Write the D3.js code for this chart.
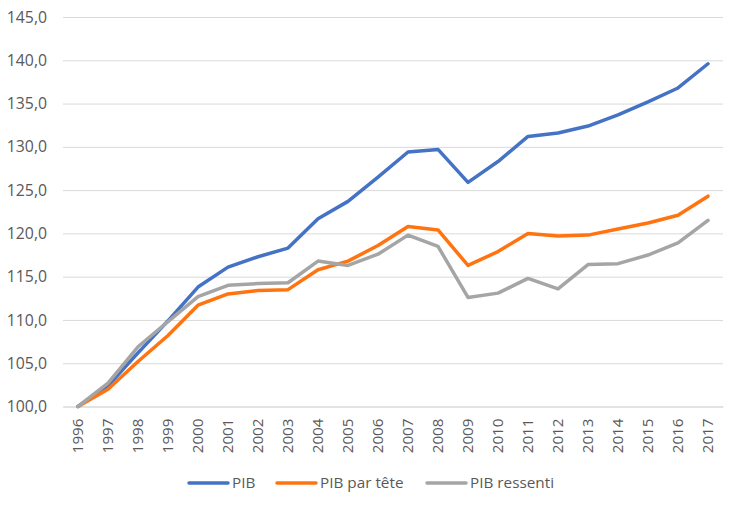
<!DOCTYPE html>
<html><head><meta charset="utf-8">
<script src="https://cdn.jsdelivr.net/npm/d3@7"></script>
<style>body{margin:0;background:#fff}svg{display:block}</style>
</head><body><svg id="c" width="733" height="512"></svg>
<script>
const years = ["1996","1997","1998","1999","2000","2001","2002","2003","2004","2005","2006","2007","2008","2009","2010","2011","2012","2013","2014","2015","2016","2017"];
const pib = [100,102.4,106.2,109.9,113.8,116.1,117.3,118.3,121.7,123.7,126.5,129.4,129.7,125.9,128.3,131.2,131.6,132.4,133.7,135.2,136.8,139.6];
const pibTete = [100,102.0,105.2,108.2,111.7,113.0,113.4,113.5,115.8,116.8,118.6,120.8,120.4,116.3,117.9,120.0,119.7,119.8,120.5,121.2,122.1,124.3];
const pibRessenti = [100,102.7,106.9,109.8,112.7,114.0,114.2,114.3,116.8,116.3,117.6,119.8,118.5,112.6,113.1,114.8,113.6,116.4,116.5,117.5,118.9,121.5];
const yTicks = [100,105,110,115,120,125,130,135,140,145];
const seriesNames = ["PIB","PIB par tête","PIB ressenti"];
const colors = ["#4472C4","#FF7410","#A5A5A5"];

const svg = d3.select("#c");
const font = "'Open Sans', sans-serif";
const x = d3.scaleBand().domain(years).range([63,723]);
const y = d3.scaleLinear().domain([100,145]).range([406.5,17]);

const g = svg.append("g");
const ya = g.append("g").attr("transform","translate(63,0)")
  .call(d3.axisLeft(y).tickValues(yTicks).tickSize(-660).tickFormat(d=>d3.format(".1f")(d).replace(".",",")));
ya.select(".domain").remove();
ya.selectAll(".tick line").attr("stroke","#d9d9d9").attr("stroke-width",1);
ya.selectAll(".tick text").attr("x",-16).attr("fill","#595959").style("font-family",font).style("font-size","15.8px");

const xa = g.append("g").attr("transform","translate(0,406.5)")
  .call(d3.axisBottom(x).tickSize(0));
xa.select(".domain").attr("stroke","#d9d9d9");
xa.selectAll(".tick text").attr("transform","rotate(-90)").attr("x",-12).attr("y",0).attr("dy","0.35em")
  .attr("text-anchor","end").attr("fill","#595959").style("font-family",font).style("font-size","15.2px");

const data = [pib,pibTete,pibRessenti];
const line = d3.line().x((d,i)=>x(years[i])+x.bandwidth()/2).y(d=>y(d));
data.forEach((s,k)=>{
  g.append("path").datum(s).attr("d",line).attr("fill","none").attr("stroke",colors[k])
   .attr("stroke-width",3.5).attr("stroke-linejoin","round").attr("stroke-linecap","round");
});

const legX = [189,277,427];
const lg = svg.append("g");
seriesNames.forEach((n,k)=>{
  lg.append("line").attr("x1",legX[k]).attr("x2",legX[k]+39).attr("y1",483).attr("y2",483)
    .attr("stroke",colors[k]).attr("stroke-width",3.5).attr("stroke-linecap","round");
  lg.append("text").attr("x",legX[k]+43).attr("y",483).attr("dy","0.35em").attr("fill","#595959")
    .style("font-family",font).style("font-size","15.3px").text(n);
});
</script></body></html>
